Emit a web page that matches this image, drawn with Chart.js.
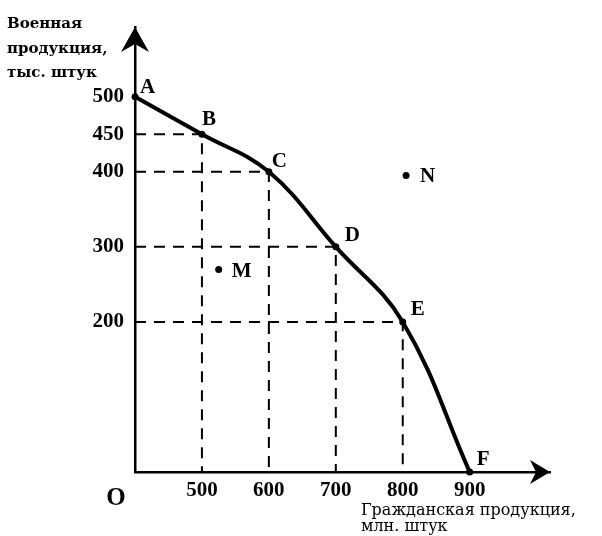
<!DOCTYPE html>
<html><head><meta charset="utf-8">
<script src="https://cdn.jsdelivr.net/npm/chart.js@4.4.0/dist/chart.umd.min.js"></script>
<style>html,body{margin:0;padding:0;background:#fff}#wrap{width:602px;height:536px;position:relative}</style>
</head><body><div id="wrap"><canvas id="c"></canvas></div>
<script>
// ---- data ----
const pointNames = ['A','B','C','D','E','F'];
const civilian = [400,500,600,700,800,900];
const military = [500,450,400,300,200,0];
const extraNames = ['M','N'];
const extraCivilian = [525,805];
const extraMilitary = [270,395];
const xTickValues = [500,600,700,800,900];
const yTickValues = [200,300,400,450,500];
const yTitleLines = ['Военная','продукция,','тыс. штук'];
const xTitleLines = ['Гражданская продукция,','млн. штук'];
const originLabel = 'O';

// ---- scale range ----
const X_MIN = 400, X_MAX = 1020, Y_MIN = 0, Y_MAX = 593;

// ---- styles ----
const labelOffsets = {A:[5,-4],B:[0,-9],C:[3,-5],D:[9,-6],E:[8,-7],F:[7,-7],M:[13,8],N:[14,6]};

const datasets = [];
for (let i = 1; i < pointNames.length - 1; i++) {
  datasets.push({
    data: [{x:X_MIN,y:military[i]},{x:civilian[i],y:military[i]},{x:civilian[i],y:Y_MIN}],
    borderColor:'#000', borderWidth:2, borderDash:[11,8], pointRadius:0, tension:0, clip:false
  });
}
datasets.push({
  data: civilian.map((x,i)=>({x, y:military[i]})),
  borderColor:'#000', borderWidth:4, tension:0.4,
  pointRadius:3.5, pointBackgroundColor:'#000', pointBorderWidth:0, clip:false
});
datasets.push({
  data: extraCivilian.map((x,i)=>({x, y:extraMilitary[i]})),
  showLine:false, pointRadius:3.5, pointBackgroundColor:'#000', pointBorderWidth:0, clip:false
});

const decor = {
  id:'decor',
  afterDatasetsDraw(chart){
    const ctx = chart.ctx, ca = chart.chartArea;
    ctx.save();
    ctx.fillStyle = '#000';
    const L = ca.left, T = ca.top, R = ca.right, B = ca.bottom;
    // axis arrows
    ctx.beginPath();
    ctx.moveTo(L, T); ctx.lineTo(L-14, T+25); ctx.lineTo(L, T+17); ctx.lineTo(L+14, T+25); ctx.closePath(); ctx.fill();
    ctx.beginPath();
    ctx.moveTo(R, B); ctx.lineTo(R-20, B-12); ctx.lineTo(R-14, B); ctx.lineTo(R-20, B+12); ctx.closePath(); ctx.fill();
    // point labels
    ctx.font = 'bold 21px "Liberation Serif", "Times New Roman", serif';
    ctx.textAlign = 'left'; ctx.textBaseline = 'alphabetic';
    const n = chart.data.datasets.length;
    chart.getDatasetMeta(n-2).data.forEach((el,i)=>{
      const o = labelOffsets[pointNames[i]];
      ctx.fillText(pointNames[i], el.x + o[0], el.y + o[1]);
    });
    chart.getDatasetMeta(n-1).data.forEach((el,i)=>{
      const o = labelOffsets[extraNames[i]];
      ctx.fillText(extraNames[i], el.x + o[0], el.y + o[1]);
    });
    // origin
    ctx.font = 'bold 25px "Liberation Serif", serif';
    ctx.textAlign = 'center';
    ctx.fillText(originLabel, L - 19, B + 33);
    // axis titles
    ctx.textAlign = 'left';
    ctx.font = 'bold 15px "DejaVu Serif", serif';
    yTitleLines.forEach((t,i)=>ctx.fillText(t, 7, 28 + i*24.5));
    ctx.font = '16px "DejaVu Serif", serif';
    xTitleLines.forEach((t,i)=>ctx.fillText(t, 361, 515 + i*16));
    ctx.restore();
  }
};

const tickFont = {family:'"Liberation Serif", serif', size:21, weight:'bold'};
new Chart(document.getElementById('c'), {
  type:'line',
  data:{ datasets },
  options:{
    responsive:true, maintainAspectRatio:false, animation:false,
    layout:{ padding:{ left:0, right:52, top:27, bottom:0 } },
    plugins:{ legend:{display:false}, tooltip:{enabled:false} },
    scales:{
      x:{
        type:'linear', min:X_MIN, max:X_MAX,
        afterBuildTicks:(s)=>{ s.ticks = xTickValues.map(v=>({value:v})); },
        afterFit:(s)=>{ s.height = 64; },
        grid:{display:false, drawTicks:false},
        border:{display:true, color:'#000', width:2.5},
        ticks:{ color:'#000', padding:6, maxRotation:0, autoSkip:false, font:tickFont }
      },
      y:{
        type:'linear', min:Y_MIN, max:Y_MAX,
        afterBuildTicks:(s)=>{ s.ticks = yTickValues.map(v=>({value:v})); },
        afterFit:(s)=>{ s.width = 135; },
        grid:{display:false, drawTicks:false},
        border:{display:true, color:'#000', width:2.5},
        ticks:{ color:'#000', padding:11, autoSkip:false, font:tickFont }
      }
    }
  },
  plugins:[decor]
});
</script>
</body></html>
